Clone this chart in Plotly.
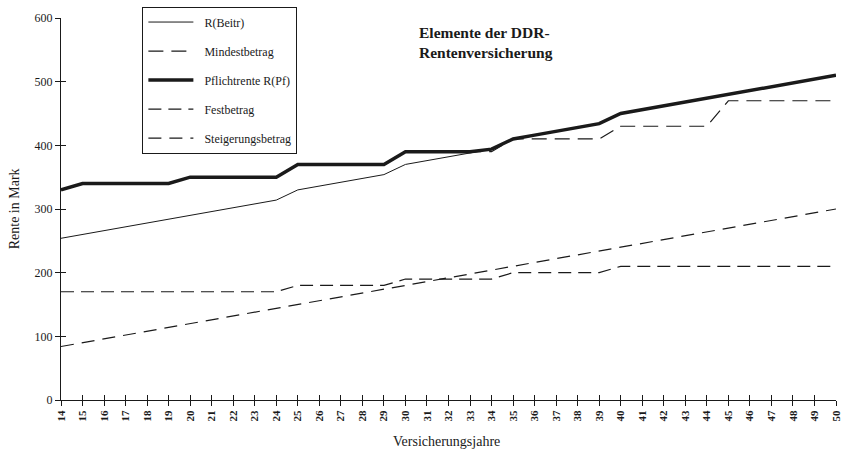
import plotly.graph_objects as go

years = list(range(14, 51))
festbetrag = [170]*11 + [180]*5 + [190]*5 + [200]*5 + [210]*11
steigerungsbetrag = [84, 90, 96, 102, 108, 114, 120, 126, 132, 138, 144, 150, 156, 162,
                     168, 174, 180, 186, 192, 198, 204, 210, 216, 222, 228, 234, 240,
                     246, 252, 258, 264, 270, 276, 282, 288, 294, 300]
r_beitr = [f + s for f, s in zip(festbetrag, steigerungsbetrag)]
mindestbetrag = [330] + [340]*5 + [350]*5 + [370]*5 + [390]*5 + [410]*5 + [430]*5 + [470]*6
pflichtrente = [max(a, b) for a, b in zip(r_beitr, mindestbetrag)]

yticks = [0, 100, 200, 300, 400, 500, 600]
title_text = "Elemente der DDR-<br>Rentenversicherung"
x_title = "Versicherungsjahre"
y_title = "Rente in Mark"
names = ["R(Beitr)", "Mindestbetrag", "Pflichtrente R(Pf)", "Festbetrag", "Steigerungsbetrag"]

FONT = "Liberation Serif"
INK = "#1a1a1a"
PAD = "\u00a0\u00a0"

fig = go.Figure()
fig.add_trace(go.Scatter(x=years, y=r_beitr, name=PAD + names[0], mode="lines",
                         line=dict(color=INK, width=1), legendgroup="a"))
fig.add_trace(go.Scatter(x=years, y=mindestbetrag, name=PAD + names[1], mode="lines",
                         line=dict(color=INK, width=1.2, dash="15px,8px"), legendgroup="b"))
fig.add_trace(go.Scatter(x=years, y=pflichtrente, name=PAD + names[2], mode="lines",
                         line=dict(color=INK, width=3.5), legendgroup="c"))
fig.add_trace(go.Scatter(x=years, y=festbetrag, name=PAD + names[3], mode="lines",
                         line=dict(color=INK, width=1.2, dash="13px,7px"), legendgroup="d"))
fig.add_trace(go.Scatter(x=years, y=steigerungsbetrag, name=PAD + names[4], mode="lines",
                         line=dict(color=INK, width=1.2, dash="13px,8px"), legendgroup="e"))
# invisible helper trace for inner tick marks (cross-shaped ticks)
fig.add_trace(go.Scatter(x=[years[0]], y=[yticks[0]], xaxis="x2", yaxis="y2", mode="lines",
                         showlegend=False, hoverinfo="skip", line=dict(width=0)))

fig.update_layout(
    width=844, height=451,
    margin=dict(l=61, r=8, t=18, b=51, autoexpand=False),
    plot_bgcolor="white", paper_bgcolor="white",
    font=dict(family=FONT, color=INK, size=11),
    showlegend=True,
    legend=dict(x=0.105, y=1.03, xanchor="left", yanchor="top",
                bordercolor=INK, borderwidth=1, bgcolor="white",
                font=dict(family=FONT, size=12, color=INK),
                tracegroupgap=10, itemwidth=45),
    xaxis=dict(range=[14, 50], tickmode="array", tickvals=years,
               ticktext=[str(y) for y in years], tickangle=-90, automargin=False,
               tickfont=dict(family=FONT, size=11, color=INK, weight="bold"),
               ticks="outside", ticklen=5, tickcolor=INK, tickwidth=1,
               showline=True, linecolor=INK, linewidth=1, showgrid=False, zeroline=False),
    yaxis=dict(range=[0, 600], tickmode="array", tickvals=yticks, automargin=False,
               tickfont=dict(family=FONT, size=12, color=INK),
               ticks="outside", ticklen=5, tickcolor=INK, tickwidth=1,
               showline=True, linecolor=INK, linewidth=1, showgrid=False, zeroline=False),
    xaxis2=dict(overlaying="x", matches="x", anchor="y2", side="bottom", tickmode="array",
                tickvals=years, showticklabels=False, ticks="inside", ticklen=5,
                tickcolor=INK, showline=False, showgrid=False, zeroline=False),
    yaxis2=dict(overlaying="y", matches="y", anchor="x2", side="left", tickmode="array",
                tickvals=yticks, showticklabels=False, ticks="inside", ticklen=5,
                tickcolor=INK, showline=False, showgrid=False, zeroline=False),
    annotations=[
        dict(text="<b>" + title_text + "</b>", xref="paper", yref="paper",
             x=0.459, y=0.99, xanchor="left", yanchor="top", align="left",
             showarrow=False, font=dict(family=FONT, size=15.5, color=INK)),
        dict(text=x_title, xref="paper", yref="paper", x=0.497, y=-0.085,
             xanchor="center", yanchor="top", showarrow=False,
             font=dict(family=FONT, size=14, color=INK)),
        dict(text=y_title, xref="paper", yref="paper", x=-0.048, y=0.5, textangle=-90,
             xanchor="right", yanchor="middle", showarrow=False,
             font=dict(family=FONT, size=14, color=INK)),
    ],
)

fig.write_html("out.html", config={"displayModeBar": False},
               post_script="document.body.style.margin='0';document.body.style.padding='0';")
